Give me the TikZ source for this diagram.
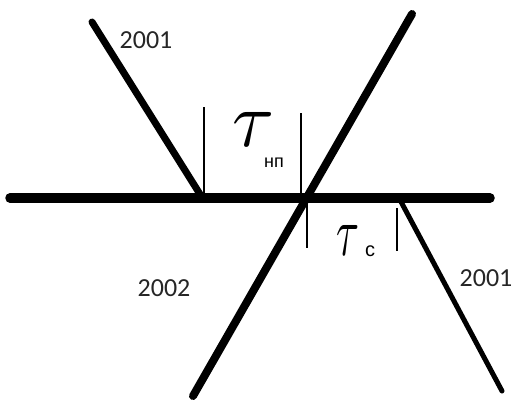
\documentclass[tikz,border=0pt]{standalone}
\usepackage{fontspec}
\newfontfamily\labfont{Carlito}
\newfontfamily\cyrfont{Liberation Sans}
\begin{document}
\begin{tikzpicture}[x=1pt,y=-1pt,
  thick line/.style={line cap=round,black},
  tick/.style={line width=1.2pt,black},
  year/.style={font=\labfont\fontsize{26}{26}\selectfont,inner sep=0pt,text=black!85},
  sub/.style={font=\cyrfont\fontsize{18}{18}\selectfont,inner sep=0pt}]
\useasboundingbox (0,0) rectangle (516,399);
% named points
\coordinate (hL) at (10,198);
\coordinate (hR) at (490,198);
\coordinate (aTop) at (92,22);
\coordinate (aBot) at (203,199);
\coordinate (bTop) at (412,14);
\coordinate (bBot) at (193,396);
\coordinate (cTop) at (399,198);
\coordinate (cBot) at (502,391);
% lines
\draw[thick line,line width=9.5pt] (hL) -- (hR);
\draw[thick line,line width=7pt] (aTop) -- (aBot);
\draw[thick line,line width=8pt] (bBot) -- (bTop);
\draw[thick line,line width=5pt] (cTop) -- (cBot);
% ticks
\coordinate (t1a) at (204,107); \coordinate (t1b) at (204,196);
\coordinate (t2a) at (301,113); \coordinate (t2b) at (301,196);
\coordinate (t3a) at (307,200); \coordinate (t3b) at (307,248);
\coordinate (t4a) at (397,208); \coordinate (t4b) at (397,251);
\draw[tick] (t1a) -- (t1b);
\draw[tick] (t2a) -- (t2b);
\draw[tick] (t3a) -- (t3b);
\draw[tick] (t4a) -- (t4b);
% tau labels
\node[inner sep=0pt,anchor=center] (tauNP) at (254,129) {\resizebox{42pt}{34pt}{$\tau$}};
\node[sub,anchor=center] (np) at (274,163) {нп};
\node[inner sep=0pt,anchor=center] (tauC) at (348,240) {\resizebox{23pt}{30pt}{$\tau$}};
\node[sub,font=\cyrfont\fontsize{20}{20}\selectfont,anchor=center] (cc) at (370,251) {c};
% year labels
\node[year] (y1) at (146,40) {2001};
\node[year] (y2) at (164,288) {2002};
\node[year] (y3) at (486,278) {2001};
\end{tikzpicture}
\end{document}
